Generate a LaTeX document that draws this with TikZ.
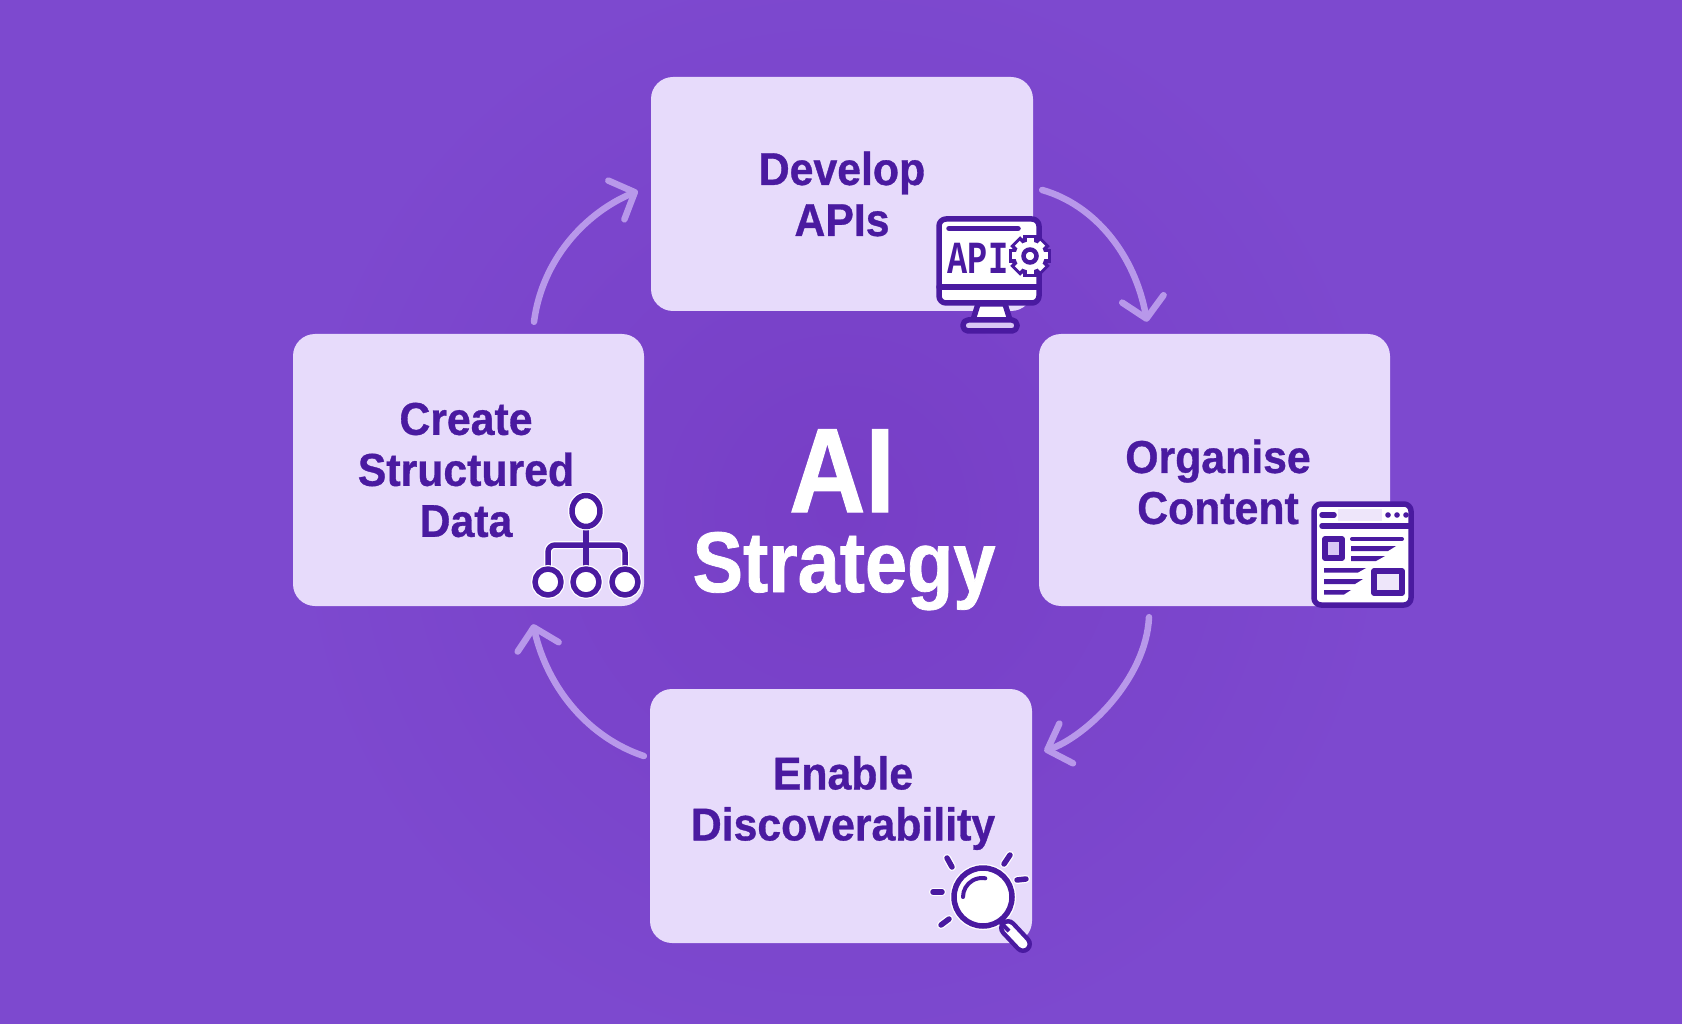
\documentclass[tikz,border=0pt]{standalone}
\usepackage{fontspec}
\usetikzlibrary{arrows.meta,calc,shapes.geometric}
\newfontfamily\labelfont{Liberation Sans}[FakeStretch=0.93,FakeBold=0.7]
\newfontfamily\titlefont{Liberation Sans}[FakeStretch=0.88,FakeBold=0.9]
\newfontfamily\apifont{Liberation Mono}[FakeStretch=0.73]
\definecolor{bgc}{HTML}{7D49CF}
\definecolor{bgd}{HTML}{773EC6}
\definecolor{boxc}{HTML}{E7DBFB}
\definecolor{ink}{HTML}{4A1AA0}
\definecolor{arr}{HTML}{B898EA}
\definecolor{iconlt}{HTML}{D9C8F5}
\tikzset{
  card/.style={rounded corners=22pt,fill=boxc,inner sep=0pt,minimum width=#1},
  cardtext/.style={font=\labelfont\bfseries\fontsize{46}{51}\selectfont,text=ink,align=center,inner sep=0pt},
  flow/.style={arr,line width=6.5pt,line cap=round,-{Straight Barb[length=20pt,width=42pt,line width=6.5pt,round]}},
  ic/.style={ink,line width=5.5pt,line join=round,line cap=round},
  icthin/.style={ink,line width=4pt,line cap=round},
}
\begin{document}
\begin{tikzpicture}[x=1pt,y=-1pt]
\useasboundingbox (0,0) rectangle (1682,1024);
\fill[bgc] (0,0) rectangle (1682,1024);
\shade[inner color=bgd,outer color=bgc] (841,512) circle (560);
% cards
\node[card=382pt,minimum height=234pt] (top) at (842,194) {};
\node[card=351pt,minimum height=272pt] (right) at (1214.5,470) {};
\node[card=382pt,minimum height=254pt] (bottom) at (841,816) {};
\node[card=351pt,minimum height=272pt] (left) at (468.5,470) {};
% texts
\node[cardtext] (toptext) at (842,194) {Develop\\APIs};
\node[cardtext] (righttext) at (1218,482) {Organise\\Content};
\node[cardtext] (bottomtext) at (843,803) {Enable\\Discoverability};
\node[cardtext] (lefttext) at (466,470) {Create\\Structured\\Data};
\node[font=\titlefont\bfseries\fontsize{120}{120}\selectfont,text=white,inner sep=0pt,anchor=base] (aititle) at (842,512) {AI};
\node[font=\titlefont\bfseries\fontsize{86}{86}\selectfont,text=white,inner sep=0pt,anchor=base] (strategytitle) at (844,592) {Strategy};
% connectors
\draw[flow] ($(top.east)+(9,-4)$) .. controls (1095,205) and (1135,255) .. ($(right.north)+(-67.5,-12)$);
\draw[flow] ($(right.south)+(-65.5,11)$) .. controls (1146,680) and (1085,737) .. ($(bottom.east)+(12,-65)$);
\draw[flow] ($(bottom.west)+(-6,-60)$) .. controls (590,738) and (548,690) .. ($(left.south)+(64.5,18)$);
\draw[flow] ($(left.north)+(65.5,-12)$) .. controls (542,260) and (585,213) .. ($(top.west)+(-13,-3)$);
% API icon
\filldraw[ic,fill=white] (978,304) -- (973,320) -- (1010,320) -- (1005,304) -- cycle;
\filldraw[ic,fill=iconlt,rounded corners=5pt] (963,320) rectangle (1017,331);
\filldraw[ic,fill=white,rounded corners=7pt] (939,219) rectangle (1039,303);
\draw[ic] (949,228.5) -- (1018,228.5);
\draw[ic] (939,287) -- (1039,287);
\node[font=\apifont\bfseries\fontsize{46}{46}\selectfont,text=ink,inner sep=0pt] (apilabel) at (978,258) {API};
\begin{scope}[shift={(1030,256)}]
  \foreach \a in {0,45,...,315} \draw[ink,line width=14pt,rotate=\a] (0,-14.5) -- (0,-21);
  \fill[ink] (0,0) circle (19);
  \foreach \a in {0,45,...,315} \draw[white,line width=7pt,rotate=\a] (0,-12) -- (0,-18);
  \fill[white] (0,0) circle (14.5);
  \draw[ink,line width=4.5pt] (0,0) circle (6.5);
\end{scope}
% browser icon
\filldraw[ic,fill=white,rounded corners=7pt] (1314,504) rectangle (1411,605);
\fill[iconlt!45] (1338,509) rectangle (1382,521);
\draw[ic] (1322,515) -- (1334,515);
\foreach \x in {1388,1397,1406} \fill[ink] (\x,515) circle (2.8);
\draw[ic] (1322,526) -- (1409,526);
\filldraw[ic,fill=iconlt] (1325,539) rectangle (1342,558);
\draw[icthin] (1352,539) -- (1402,539);
\fill[ink] (1351,546) -- (1396,546) -- (1388,551) -- (1351,551) -- cycle;
\fill[ink] (1351,556) -- (1385,556) -- (1376,561) -- (1351,561) -- cycle;
\fill[ink] (1324,568) -- (1366,568) -- (1358,572.5) -- (1324,572.5) -- cycle;
\fill[ink] (1324,579) -- (1363,579) -- (1355,584) -- (1324,584) -- cycle;
\fill[ink] (1324,590) -- (1351,590) -- (1344,594.5) -- (1324,594.5) -- cycle;
\filldraw[ic,fill=iconlt!45] (1374,571) rectangle (1402,593);
% magnifier
\fill[white] (983,897) circle (33);
\draw[ink,line width=18pt,line cap=round] (1008,928) -- (1023,944);
\draw[white,line width=9pt,line cap=round] (1008,928) -- (1023,944);
\filldraw[ic,fill=white] (983,897) circle (29);
\draw[ink,line width=4pt] (999,921) -- (1009,931);
\draw[icthin] (963,897) arc (180:280:19);
\foreach \xa/\ya/\xb/\yb in {947/858/952/867,1010/855/1004/864,1017/880/1026/879,933/892/942/892,941/925/949/919}{
  \draw[white,line width=8pt,line cap=round] (\xa,\ya) -- (\xb,\yb);
  \draw[ic] (\xa,\ya) -- (\xb,\yb);
}
% tree icon
\draw[white,line width=8pt,rounded corners=7pt] (548,570) -- (548,545) -- (625,545) -- (625,570);
\draw[ic,rounded corners=7pt] (548,570) -- (548,545) -- (625,545) -- (625,570);
\draw[ic] (586,527) -- (586,570);
\filldraw[ic,fill=white,preaction={draw=white,line width=8pt}] (586,511) ellipse (14 and 15.5);
\foreach \x in {548,586,625}
  \filldraw[ic,fill=white,preaction={draw=white,line width=8pt}] (\x,582) circle (13);
\end{tikzpicture}
\end{document}
